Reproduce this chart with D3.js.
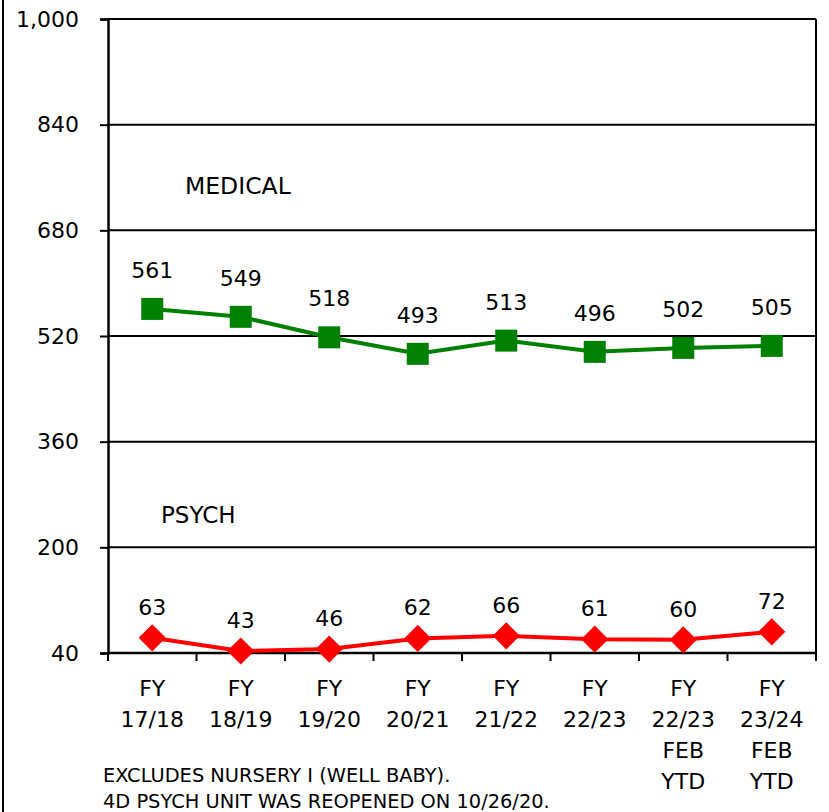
<!DOCTYPE html>
<html>
<head>
<meta charset="utf-8">
<script src="https://cdn.jsdelivr.net/npm/d3@7"></script>
<style>
  body { margin: 0; background: #fff; }
  svg text { font-family: "DejaVu Sans", Verdana, sans-serif; fill: #000; }
</style>
</head>
<body>
<div id="chart"></div>
<script>
// chart values
const categories = [
  ["FY", "17/18"], ["FY", "18/19"], ["FY", "19/20"], ["FY", "20/21"],
  ["FY", "21/22"], ["FY", "22/23"], ["FY", "22/23", "FEB", "YTD"], ["FY", "23/24", "FEB", "YTD"]
];
const medical = [561, 549, 518, 493, 513, 496, 502, 505];
const psych = [63, 43, 46, 62, 66, 61, 60, 72];
const yTicks = [40, 200, 360, 520, 680, 840, 1000];
const notes = ["EXCLUDES NURSERY I (WELL BABY).", "4D PSYCH UNIT WAS REOPENED ON 10/26/20."];

const W = 829, H = 812;
const margin = {left: 108, right: 13, top: 19, bottom: 159};
const plotW = W - margin.left - margin.right;
const plotH = H - margin.top - margin.bottom;

const svg = d3.select("#chart").append("svg").attr("width", W).attr("height", H);

// outer frame line on the left
svg.append("line").attr("x1", 3).attr("x2", 3).attr("y1", 0).attr("y2", H)
  .attr("stroke", "#000").attr("stroke-width", 2);

const g = svg.append("g").attr("transform", `translate(${margin.left},${margin.top})`);

const x = d3.scaleBand().domain(d3.range(categories.length)).range([0, plotW]);
const y = d3.scaleLinear().domain([40, 1000]).range([plotH, 0]);

// gridlines
g.selectAll(".grid").data(yTicks).enter().append("line")
  .attr("x1", 0).attr("x2", plotW)
  .attr("y1", d => y(d)).attr("y2", d => y(d))
  .attr("stroke", "#000").attr("stroke-width", 2);

// right border
g.append("line").attr("x1", plotW).attr("x2", plotW).attr("y1", 0).attr("y2", plotH + 8)
  .attr("stroke", "#000").attr("stroke-width", 2);

// y axis
const yAxis = g.append("g").call(d3.axisLeft(y).tickValues(yTicks).tickSize(8).tickPadding(21)
  .tickFormat(d3.format(",")));
yAxis.select(".domain").attr("stroke-width", 2.5);
yAxis.selectAll(".tick line").attr("stroke-width", 2);
yAxis.selectAll(".tick text").attr("font-size", 22).attr("font-family", "DejaVu Sans").attr("fill", "#000");

// x axis with ticks at category boundaries
const xAxisG = g.append("g").attr("transform", `translate(0,${plotH})`);
xAxisG.append("line").attr("x1", 0).attr("x2", plotW).attr("stroke", "#000").attr("stroke-width", 2.5);
xAxisG.selectAll(".xt").data(d3.range(categories.length + 1)).enter().append("line")
  .attr("x1", i => i * x.step()).attr("x2", i => i * x.step())
  .attr("y1", 0).attr("y2", 8).attr("stroke", "#000").attr("stroke-width", 2);
xAxisG.selectAll(".xl").data(categories).enter().append("text")
  .attr("text-anchor", "middle").attr("font-size", 22)
  .attr("transform", (d, i) => `translate(${x(i) + x.bandwidth() / 2},0)`)
  .each(function(lines) {
    d3.select(this).selectAll("tspan").data(lines).enter().append("tspan")
      .attr("x", 0).attr("y", (t, j) => 43 + j * 31).text(t => t);
  });

const cx = i => x(i) + x.bandwidth() / 2;
const line = d3.line().x((d, i) => cx(i)).y(d => y(d));

// medical series
g.append("path").datum(medical).attr("d", line)
  .attr("fill", "none").attr("stroke", "#008000").attr("stroke-width", 4);
g.selectAll(".med").data(medical).enter().append("rect")
  .attr("x", (d, i) => cx(i) - 11).attr("y", d => y(d) - 11)
  .attr("width", 22).attr("height", 22).attr("fill", "#008000");
g.selectAll(".medLbl").data(medical).enter().append("text")
  .attr("x", (d, i) => cx(i)).attr("y", d => y(d) - 31)
  .attr("text-anchor", "middle").attr("font-size", 22).text(d => d);

// psych series
g.append("path").datum(psych).attr("d", line)
  .attr("fill", "none").attr("stroke", "#ff0000").attr("stroke-width", 4);
g.selectAll(".psy").data(psych).enter().append("path")
  .attr("d", d3.symbol().type(d3.symbolSquare).size(370))
  .attr("transform", (d, i) => `translate(${cx(i)},${y(d)}) rotate(45)`)
  .attr("fill", "#ff0000");
g.selectAll(".psyLbl").data(psych).enter().append("text")
  .attr("x", (d, i) => cx(i)).attr("y", d => y(d) - 23)
  .attr("text-anchor", "middle").attr("font-size", 22).text(d => d);

// series names
g.append("text").attr("x", 77).attr("y", 175).attr("font-size", 23.5).text("MEDICAL");
g.append("text").attr("x", 53).attr("y", 504).attr("font-size", 23).text("PSYCH");

// footnotes
svg.selectAll(".note").data(notes).enter().append("text")
  .attr("x", 103).attr("y", (d, i) => 782 + i * 26)
  .attr("font-size", 19.4).text(d => d);
</script>
</body>
</html>
